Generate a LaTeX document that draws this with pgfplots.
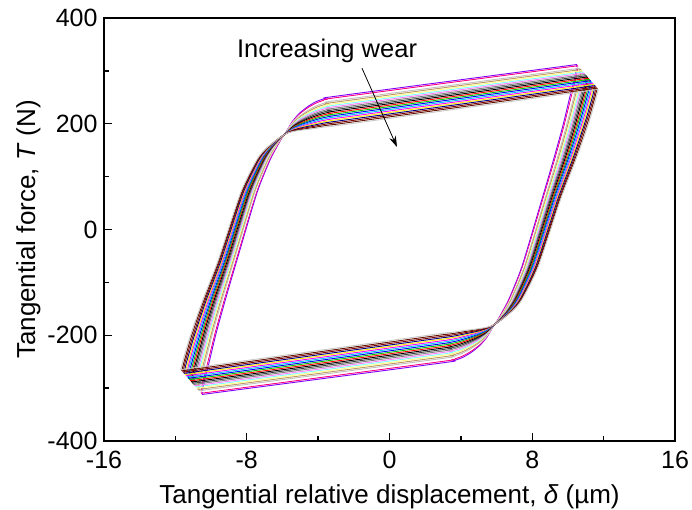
\documentclass[border=0pt]{standalone}
\usepackage{fontspec}
\setmainfont{Liberation Sans}
\usepackage{pgfplots}
\pgfplotsset{compat=1.18}
\usepackage{pgfplotstable}
\usetikzlibrary{arrows.meta}
\definecolor{c0}{RGB}{128,0,255}
\definecolor{c1}{RGB}{255,0,128}
\definecolor{c2}{RGB}{255,255,255}
\definecolor{c3}{RGB}{192,192,192}
\definecolor{c4}{RGB}{190,150,100}
\definecolor{c5}{RGB}{255,255,128}
\definecolor{c6}{RGB}{128,255,255}
\definecolor{c7}{RGB}{255,128,255}
\definecolor{c8}{RGB}{128,128,128}
\definecolor{c9}{RGB}{64,64,64}
\definecolor{c10}{RGB}{0,0,0}
\definecolor{c11}{RGB}{255,0,0}
\definecolor{c12}{RGB}{0,200,0}
\definecolor{c13}{RGB}{0,0,255}
\definecolor{c14}{RGB}{0,200,255}
\definecolor{c15}{RGB}{255,0,255}
\definecolor{c16}{RGB}{255,230,0}
\definecolor{c17}{RGB}{0,0,128}
\definecolor{c18}{RGB}{128,0,0}
\definecolor{c19}{RGB}{100,20,0}
\definecolor{c20}{RGB}{200,200,200}

% Half loops (top-right corner -> right branch down -> bottom branch -> bottom-left corner)
% columns x_k y_k for loop k (k=0 least wear, k=20 most wear)
\pgfplotstableread{
x0 y0 x1 y1 x2 y2 x3 y3 x4 y4 x5 y5 x6 y6 x7 y7 x8 y8 x9 y9 x10 y10 x11 y11 x12 y12 x13 y13 x14 y14 x15 y15 x16 y16 x17 y17 x18 y18 x19 y19 x20 y20
10.50 312 10.56 309.7 10.62 307.3 10.68 305.0 10.74 302.6 10.80 300.3 10.86 297.9 10.92 295.6 10.98 293.2 11.04 290.9 11.10 288.5 11.16 286.2 11.22 283.8 11.28 281.5 11.34 279.1 11.40 276.8 11.46 274.4 11.52 272.1 11.58 269.7 11.64 267.4 11.70 265
10.40 290 10.46 287.8 10.52 285.5 10.57 283.3 10.63 281 10.69 278.8 10.75 276.5 10.80 274.3 10.86 272 10.92 269.8 10.98 267.5 11.03 265.3 11.09 263 11.15 260.8 11.21 258.5 11.26 256.3 11.32 254 11.38 251.8 11.44 249.5 11.49 247.3 11.55 245
10.10 250 10.16 247.8 10.21 245.5 10.27 243.3 10.32 241 10.38 238.8 10.43 236.5 10.49 234.3 10.54 232 10.60 229.8 10.65 227.5 10.71 225.3 10.76 223 10.82 220.8 10.87 218.5 10.93 216.3 10.98 214 11.04 211.8 11.09 209.5 11.15 207.3 11.20 205
9.73 198 9.78 196.4 9.84 194.7 9.89 193.1 9.94 191.4 10.00 189.8 10.05 188.1 10.10 186.5 10.16 184.8 10.21 183.2 10.27 181.5 10.32 179.9 10.37 178.2 10.43 176.6 10.48 174.9 10.53 173.3 10.59 171.6 10.64 170 10.69 168.3 10.75 166.7 10.80 165
9.20 133 9.26 132.8 9.32 132.5 9.38 132.3 9.44 132 9.50 131.8 9.56 131.5 9.62 131.3 9.68 131 9.74 130.8 9.80 130.5 9.86 130.3 9.92 130 9.98 129.8 10.04 129.5 10.10 129.3 10.16 129 10.22 128.8 10.28 128.5 10.34 128.3 10.40 128
8.55 58 8.60 58 8.66 58 8.71 58 8.76 58 8.81 58 8.87 58 8.92 58 8.97 58 9.02 58 9.08 58 9.13 58 9.18 58 9.23 58 9.29 58 9.34 58 9.39 58 9.44 58 9.50 58 9.55 58 9.60 58
7.43 -69 7.48 -69 7.52 -69 7.57 -69 7.61 -69 7.66 -69 7.71 -69 7.75 -69 7.80 -69 7.84 -69 7.89 -69 7.94 -69 7.98 -69 8.03 -69 8.07 -69 8.12 -69 8.17 -69 8.21 -69 8.26 -69 8.30 -69 8.35 -69
6.70 -131 6.74 -131 6.78 -131 6.81 -131 6.85 -131 6.89 -131 6.93 -131 6.96 -131 7.00 -131 7.04 -131 7.08 -131 7.11 -131 7.15 -131 7.19 -131 7.23 -131 7.26 -131 7.30 -131 7.34 -131 7.38 -131 7.41 -131 7.45 -131
6.30 -157 6.33 -156.8 6.37 -156.5 6.40 -156.3 6.43 -156 6.46 -155.8 6.50 -155.5 6.53 -155.3 6.56 -155 6.59 -154.8 6.63 -154.5 6.66 -154.3 6.69 -154 6.72 -153.8 6.76 -153.5 6.79 -153.3 6.82 -153 6.85 -152.8 6.89 -152.5 6.92 -152.3 6.95 -152
6.05 -172 6.06 -171.9 6.08 -171.8 6.09 -171.7 6.10 -171.6 6.11 -171.5 6.13 -171.4 6.14 -171.3 6.15 -171.2 6.16 -171.1 6.18 -171 6.19 -170.9 6.20 -170.8 6.21 -170.7 6.23 -170.6 6.24 -170.5 6.25 -170.4 6.26 -170.3 6.28 -170.2 6.29 -170.1 6.30 -170
5.80 -184 5.80 -183.9 5.80 -183.8 5.79 -183.7 5.79 -183.6 5.79 -183.5 5.79 -183.4 5.78 -183.3 5.78 -183.2 5.78 -183.1 5.78 -183 5.77 -182.9 5.77 -182.8 5.77 -182.7 5.77 -182.6 5.76 -182.5 5.76 -182.4 5.76 -182.3 5.76 -182.2 5.75 -182.1 5.75 -182
5.45 -204 5.44 -203.1 5.44 -202.2 5.43 -201.3 5.42 -200.4 5.41 -199.5 5.41 -198.6 5.40 -197.7 5.39 -196.8 5.38 -195.9 5.38 -195 5.37 -194.1 5.36 -193.2 5.35 -192.3 5.35 -191.4 5.34 -190.5 5.33 -189.6 5.32 -188.7 5.32 -187.8 5.31 -186.9 5.30 -186
5.07 -219 5.06 -217.5 5.04 -216.0 5.03 -214.4 5.02 -212.9 5.00 -211.4 4.99 -209.9 4.98 -208.3 4.96 -206.8 4.95 -205.3 4.94 -203.8 4.92 -202.2 4.91 -200.7 4.89 -199.2 4.88 -197.7 4.87 -196.1 4.85 -194.6 4.84 -193.1 4.83 -191.6 4.81 -190.0 4.80 -188.5
4.60 -232 4.58 -230.0 4.56 -227.9 4.54 -225.9 4.52 -223.8 4.50 -221.8 4.48 -219.7 4.46 -217.7 4.44 -215.6 4.42 -213.6 4.40 -211.5 4.38 -209.5 4.36 -207.4 4.34 -205.4 4.32 -203.3 4.30 -201.3 4.28 -199.2 4.26 -197.2 4.24 -195.1 4.22 -193.1 4.20 -191
4.10 -242 4.08 -239.6 4.05 -237.2 4.03 -234.8 4.00 -232.4 3.98 -230 3.95 -227.6 3.93 -225.2 3.90 -222.8 3.88 -220.4 3.85 -218 3.83 -215.6 3.80 -213.2 3.78 -210.8 3.75 -208.4 3.73 -206 3.70 -203.6 3.68 -201.2 3.65 -198.8 3.63 -196.4 3.60 -194
3.50 -249 3.48 -246.4 3.45 -243.8 3.43 -241.1 3.40 -238.5 3.38 -235.9 3.35 -233.3 3.33 -230.6 3.30 -228 3.28 -225.4 3.25 -222.8 3.23 -220.1 3.20 -217.5 3.18 -214.9 3.15 -212.3 3.13 -209.6 3.10 -207 3.08 -204.4 3.05 -201.8 3.03 -199.1 3.00 -196.5
2.80 -253 2.78 -250.3 2.76 -247.6 2.74 -244.9 2.72 -242.2 2.70 -239.5 2.68 -236.8 2.66 -234.1 2.64 -231.4 2.62 -228.7 2.60 -226 2.58 -223.3 2.56 -220.6 2.54 -217.9 2.52 -215.2 2.50 -212.5 2.48 -209.8 2.46 -207.1 2.44 -204.4 2.42 -201.7 2.40 -199
-10.50 -312 -10.56 -309.7 -10.62 -307.3 -10.68 -305.0 -10.74 -302.6 -10.80 -300.3 -10.86 -297.9 -10.92 -295.6 -10.98 -293.2 -11.04 -290.9 -11.10 -288.5 -11.16 -286.2 -11.22 -283.8 -11.28 -281.5 -11.34 -279.1 -11.40 -276.8 -11.46 -274.4 -11.52 -272.1 -11.58 -269.7 -11.64 -267.4 -11.70 -265
}\loops

\begin{document}
\begin{tikzpicture}[font=\fontsize{26}{30}\selectfont]
\begin{axis}[
  scale only axis, width=571pt, height=423pt,
  xmin=-16, xmax=16, ymin=-400, ymax=400,
  xtick={-16,-8,0,8,16}, ytick={-400,-200,0,200,400},
  minor x tick num=1, minor y tick num=1,
  tick align=inside, xtick pos=bottom, ytick pos=left,
  major tick length=8pt, minor tick length=5pt,
  axis line style={line width=1.4pt},
  tick style={line width=1.4pt, black},
  /pgf/number format/assume math mode=true,
  tick label style={font=\fontsize{25}{30}\selectfont},
  xticklabel style={yshift=-7pt},
  yticklabel style={xshift=-3pt},
  label style={font=\fontsize{26}{30}\selectfont},
  xlabel style={yshift=-9pt},
  xlabel={Tangential relative displacement, \textit{δ} (µm)},
  ylabel={Tangential force, \textit{T} (N)},
  clip=false,
]
\pgfplotsinvokeforeach{0,...,20}{
  \addplot[color=c#1, line width=0.9pt, line join=round, smooth, tension=0.4] table[x=x#1, y=y#1] {\loops};
  \addplot[color=c#1, line width=0.9pt, line join=round, smooth, tension=0.4] table[x expr={-1*(\thisrow{x#1})}, y expr={-1*(\thisrow{y#1})}] {\loops};
}
\node[font=\fontsize{25.5}{30}\selectfont] at (axis cs:-3.5,337) {Increasing wear};
\draw[-{Stealth[length=11pt,width=7pt]}, line width=0.8pt] (axis cs:-1.54,305) -- (axis cs:0.42,156);
\coordinate (bl) at (rel axis cs:0,0);
\coordinate (tr) at (rel axis cs:1,1);
\end{axis}
\pgfresetboundingbox
\path[use as bounding box] ([shift={(-104pt,-69pt)}]bl) rectangle ([shift={(17pt,18pt)}]tr);
\end{tikzpicture}
\end{document}
